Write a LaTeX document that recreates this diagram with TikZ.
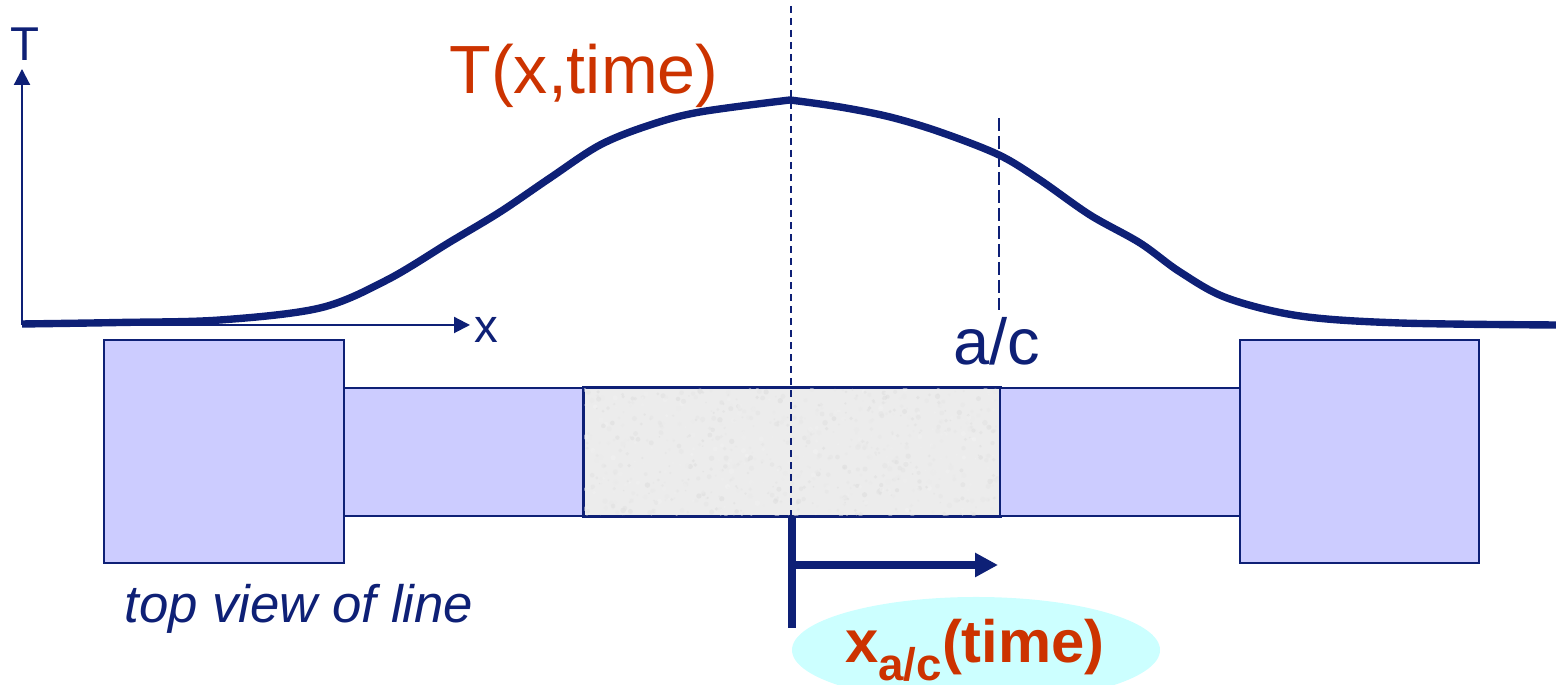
\documentclass[tikz,border=0pt]{standalone}
\usepackage{fontspec}
\setmainfont{Liberation Sans}
\usetikzlibrary{arrows.meta,positioning,shapes.geometric}

\begin{document}
\begin{tikzpicture}[
  line/.style={draw=navy, line width=0.6pt},
  axis/.style={draw=navy, line width=0.6pt, -{Triangle[length=0.16cm, width=0.16cm]}},
  guide/.style={draw=navy, line width=0.75pt, dash pattern=on 0.07cm off 0.05cm},
  curve/.style={draw=navy, line width=2.1pt, line join=round},
  pad/.style={line, fill=padblue, minimum width=2.4cm, minimum height=2.23cm, inner sep=0pt, anchor=south west},
  arm/.style={line, fill=padblue, minimum width=2.4cm, minimum height=1.28cm, inner sep=0pt, anchor=south west},
  lab/.style={text=navy, inner sep=0pt, anchor=base},
  hotlab/.style={text=rust, inner sep=0pt, anchor=base}
]
\definecolor{navy}{RGB}{14,32,118}
\definecolor{rust}{RGB}{204,51,0}
\definecolor{padblue}{RGB}{204,204,255}
\definecolor{bubble}{RGB}{204,255,255}
\definecolor{metal}{RGB}{236,236,236}

\clip (0,0) rectangle (15.56,6.85);

% axes
\coordinate (origin) at (0.22,3.60);
\coordinate (Ttip) at (0.22,6.16);
\coordinate (xtip) at (4.70,3.60);
\draw[axis] (origin) -- (Ttip);
\draw[axis] (origin) -- (xtip);
\node[lab, font=\fontsize{13.5}{14}\selectfont] (Tname) at (0.25,6.24) {T};
\node[lab, font=\fontsize{13.5}{14}\selectfont] (xname) at (4.86,3.42) {x};

% top view of the line
\node[arm] (armL) at (3.43,1.68) {};
\node[arm, fill=metal, minimum width=4.16cm] (hot) at (5.83,1.68) {};
\begin{scope}
  \clip (hot.south west) rectangle (hot.north east);
  \pgfmathsetseed{11}
  \foreach \i in {1,...,900} {
    \pgfmathsetmacro{\px}{5.83+4.16*rnd}
    \pgfmathsetmacro{\py}{1.68+1.28*rnd}
    \pgfmathsetmacro{\pr}{0.008+0.02*rnd}
    \pgfmathsetmacro{\pg}{5+9*rnd}
    \fill[black!\pg, opacity=0.5] (\px,\py) circle[radius=\pr];
  }
\end{scope}
\draw[line] (hot.south west) rectangle (hot.north east);
\node[arm] (armR) at (9.99,1.68) {};
\node[pad] (padL) at (1.03,1.21) {};
\node[pad, minimum width=2.39cm] (padR) at (12.39,1.21) {};
\node[lab, font=\fontsize{15}{16}\selectfont\itshape] (view) at (2.99,0.62) {top view of line};

% temperature profile
\draw[curve] plot[smooth, tension=0.55] coordinates {
  (0.22,3.61) (1.20,3.625) (2.20,3.65) (3.20,3.77) (3.87,4.05) (4.50,4.43)
  (5.00,4.73) (5.50,5.07) (6.00,5.40) (6.50,5.60) (7.00,5.73) (7.90,5.85)}
  -- plot[smooth, tension=0.55] coordinates {
  (7.90,5.85) (8.40,5.78) (8.90,5.68) (9.40,5.53) (9.99,5.30) (10.40,5.05)
  (10.90,4.70) (11.40,4.42) (11.80,4.13) (12.27,3.87) (13.00,3.69)
  (14.00,3.62) (15.56,3.60)};
\node[hotlab, font=\fontsize{19.4}{21}\selectfont] (profile) at (5.84,5.91) {T(x,time)};

% guides
\coordinate (mid) at (7.91,6.79);
\coordinate (acTop) at (9.99,5.67);
\coordinate (acBot) at (9.99,3.75);
\draw[guide] (mid) -- (mid |- hot.south);
\draw[guide, dash pattern=on 0.13cm off 0.05cm] (acTop) -- (acBot);
\node[lab, font=\fontsize{18.5}{20}\selectfont] (ac) at (9.97,3.20) {a/c};

% front position
\coordinate (barTop) at (7.92,1.68);
\coordinate (barBot) at (7.92,0.57);
\coordinate (front) at (7.92,1.20);
\coordinate (frontTip) at (9.98,1.20);
\draw[navy, line width=2.3pt] (barTop) -- (barBot);
\draw[navy, line width=2pt, -{Triangle[length=0.23cm, width=0.23cm]}] (front) -- (frontTip);
\node[ellipse, fill=bubble, minimum width=3.68cm, minimum height=1.06cm] (bubbleNode) at (9.76,0.35) {};
\node[hotlab, font=\fontsize{17}{18}\selectfont\bfseries] (xac) at (9.75,0.22)
  {x\raisebox{-5pt}{\fontsize{13}{14}\selectfont a/c}(time)};
\end{tikzpicture}
\end{document}
